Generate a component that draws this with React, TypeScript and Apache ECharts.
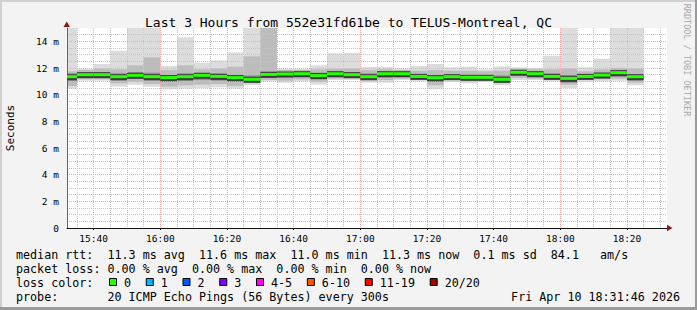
import React, { useEffect, useRef } from 'react';
import * as echarts from 'echarts';

// ---- data ----
const binEnd = ['15:35','15:40','15:45','15:50','15:55','16:00','16:05','16:10','16:15','16:20','16:25','16:30','16:35','16:40','16:45','16:50','16:55','17:00','17:05','17:10','17:15','17:20','17:25','17:30','17:35','17:40','17:45','17:50','17:55','18:00','18:05','18:10','18:15','18:20','18:25'];
const rttMedian = [11.35,11.50,11.50,11.35,11.45,11.35,11.28,11.35,11.45,11.37,11.28,11.15,11.52,11.55,11.57,11.43,11.57,11.50,11.35,11.57,11.57,11.37,11.27,11.35,11.30,11.30,11.15,11.68,11.57,11.37,11.22,11.37,11.47,11.65,11.35];
const rttMin = [10.45,11.05,11.05,10.60,10.75,10.60,10.40,10.45,10.50,10.55,10.45,10.70,11.00,10.90,11.00,10.75,11.10,11.10,10.90,10.90,11.10,11.00,10.40,10.95,10.85,10.95,10.70,11.10,11.10,11.00,10.50,10.95,11.00,11.05,10.70];
const rttMax = [15.6,11.95,12.30,13.30,15.6,15.6,12.15,14.30,12.40,12.57,13.17,15.6,15.6,11.95,11.93,12.20,13.10,13.12,12.07,12.07,11.97,12.15,12.30,12.05,12.10,11.90,12.12,12.05,12.00,12.92,15.6,12.05,12.70,15.6,15.6];
const rttLow2 = [10.65,11.15,11.15,10.85,10.95,10.80,10.60,10.70,10.75,10.80,10.65,10.85,11.10,11.05,11.15,10.95,11.20,11.20,11.05,11.10,11.20,11.10,10.70,11.10,11.00,11.05,10.85,11.25,11.20,11.10,10.75,11.10,11.15,11.20,10.90];
const rttHigh2 = [11.75,11.85,11.95,11.90,12.20,12.80,11.85,12.20,11.90,11.95,12.10,12.87,15.6,11.85,11.85,11.90,11.95,11.95,11.85,11.90,11.85,11.80,11.85,11.80,11.80,11.75,11.80,11.95,11.90,11.90,11.95,11.75,11.90,12.00,11.95];
const rttLow = [11.00,11.30,11.30,11.05,11.20,11.05,10.95,11.00,11.10,11.05,10.95,10.95,11.30,11.30,11.35,11.15,11.35,11.30,11.15,11.30,11.35,11.20,10.95,11.15,11.10,11.15,10.95,11.45,11.35,11.15,10.90,11.15,11.25,11.35,11.05];
const rttHigh = [11.60,11.70,11.70,11.60,11.70,11.65,11.50,11.60,11.65,11.60,11.50,11.45,11.75,11.70,11.75,11.65,11.75,11.70,11.60,11.75,11.75,11.55,11.50,11.55,11.50,11.50,11.45,11.85,11.75,11.60,11.50,11.55,11.65,11.85,11.55];

const xTickLabels = ['15:40','16:00','16:20','16:40','17:00','17:20','17:40','18:00','18:20'];
const yTickValues = [0, 2, 4, 6, 8, 10, 12, 14];

const titleText = 'Last 3 Hours from 552e31fd61be to TELUS-Montreal, QC';
const legendRtt = 'median rtt:  11.3 ms avg  11.6 ms max  11.0 ms min  11.3 ms now  0.1 ms sd  84.1   am/s';
const legendLoss = 'packet loss: 0.00 % avg  0.00 % max  0.00 % min  0.00 % now';
const legendProbe = 'probe:       20 ICMP Echo Pings (56 Bytes) every 300s';
const legendDate = 'Fri Apr 10 18:31:46 2026';
const lossLabels = ['0', '1', '2', '3', '4-5', '6-10', '11-19', '20/20'];
const lossColors = ['#26ff00', '#00b8ff', '#0059ff', '#7e00ff', '#ff00ff', '#ff5500', '#ff0000', '#a10000'];

// minute categories for the time axis (15:32 .. 18:32)
const minuteLabels: string[] = [];
for (let m = 15 * 60 + 32; m <= 18 * 60 + 32; m++) {
  minuteLabels.push(`${Math.floor(m / 60)}:${String(m % 60).padStart(2, '0')}`);
}
const minuteOf = (s: string) => { const [h, m] = s.split(':').map(Number); return h * 60 + m; };

const MONO = '"DejaVu Sans Mono", monospace';
const RED_GRID = '#f4a8a8';
const GRAY_GRID = '#c4c4c4';

export default function App() {
  const ref = useRef<HTMLDivElement>(null);
  useEffect(() => {
    if (!ref.current) return;
    const chart = echarts.init(ref.current, undefined, { renderer: 'svg' });

    const smokeData = binEnd.map((e, k) => {
      const s = k === 0 ? 0 : minuteLabels.indexOf(binEnd[k - 1]);
      const en = minuteLabels.indexOf(e);
      return [s, en, rttMin[k], rttMax[k], rttLow2[k], rttHigh2[k], rttLow[k], rttHigh[k], rttMedian[k]];
    });

    const layers: [number, number, string][] = [[2, 3, '#dcdcdc'], [4, 5, '#bcbcbc'], [6, 7, '#8e8e8e']];
    const renderSmoke = (params: any, api: any) => {
      const x0 = api.value(0), x1 = api.value(1);
      const children: any[] = [];
      layers.forEach(([a, b, c]) => {
        const p0 = api.coord([x0, api.value(b)]);
        const p1 = api.coord([x1, api.value(a)]);
        const r = echarts.graphic.clipRectByRect(
          { x: p0[0], y: p0[1], width: p1[0] - p0[0], height: p1[1] - p0[1] },
          params.coordSys
        );
        if (r) children.push({ type: 'rect', shape: r, style: { fill: c } });
      });
      return { type: 'group', children };
    };
    const renderMedian = (params: any, api: any) => {
      const x0 = api.value(0), x1 = api.value(1);
      const p0 = api.coord([x0, api.value(8)]);
      const p1 = api.coord([x1, api.value(8)]);
      const w = p1[0] - p0[0];
      return {
        type: 'group',
        children: [
          { type: 'rect', shape: { x: p0[0], y: p0[1] - 2.5, width: w, height: 6 }, style: { fill: '#3c3c3c' } },
          { type: 'rect', shape: { x: p0[0], y: p0[1] - 1.5, width: w, height: 3 }, style: { fill: '#26ff00' } },
        ],
      };
    };

    const graphics: any[] = [
      { type: 'rect', shape: { x: 0, y: 0, width: 697, height: 2 }, style: { fill: '#d0d0d0' }, silent: true },
      { type: 'rect', shape: { x: 0, y: 0, width: 2, height: 310 }, style: { fill: '#d0d0d0' }, silent: true },
      { type: 'rect', shape: { x: 0, y: 307, width: 697, height: 3 }, style: { fill: '#9a9a9a' }, silent: true },
      { type: 'rect', shape: { x: 695, y: 0, width: 2, height: 310 }, style: { fill: '#9a9a9a' }, silent: true },
      { type: 'polygon', shape: { points: [[63.5, 27], [70, 27], [66.7, 21.5]] }, style: { fill: '#8b1a1a' }, z: 20 },
      { type: 'polygon', shape: { points: [[667, 224.8], [667, 231.2], [672.5, 228]] }, style: { fill: '#8b1a1a' }, z: 20 },
      {
        type: 'text', x: 687, y: 60, rotation: -Math.PI / 2,
        style: { text: 'RRDTOOL / TOBI OETIKER', fontFamily: MONO, fontSize: 8.5, fill: '#aaaaaa', align: 'center', verticalAlign: 'middle' },
      },
      { type: 'text', x: 16, y: 254.5, style: { text: legendRtt, fontFamily: MONO, fontSize: 11.7, fill: '#000', verticalAlign: 'middle' } },
      { type: 'text', x: 16, y: 268.5, style: { text: legendLoss, fontFamily: MONO, fontSize: 11.7, fill: '#000', verticalAlign: 'middle' } },
      { type: 'text', x: 16, y: 282.5, style: { text: 'loss color:', fontFamily: MONO, fontSize: 11.7, fill: '#000', verticalAlign: 'middle' } },
      { type: 'text', x: 16, y: 296.5, style: { text: legendProbe, fontFamily: MONO, fontSize: 11.7, fill: '#000', verticalAlign: 'middle' } },
      { type: 'text', x: 680, y: 296.5, style: { text: legendDate, fontFamily: MONO, fontSize: 11.7, fill: '#000', align: 'right', verticalAlign: 'middle' } },
    ];
    let bx = 109;
    lossLabels.forEach((lab, i) => {
      graphics.push({ type: 'rect', shape: { x: bx + 0.5, y: 278.5, width: 7, height: 7 }, style: { fill: lossColors[i], stroke: '#000', lineWidth: 1 } });
      graphics.push({ type: 'text', x: bx + 15, y: 282.5, style: { text: lab, fontFamily: MONO, fontSize: 11.7, fill: '#000', verticalAlign: 'middle' } });
      bx = bx + 15 + lab.length * 7.05 + 14.7;
    });

    const isMajor = (v: string) => xTickLabels.includes(v);
    const isMinor = (v: string) => minuteOf(v) % 5 === 0 && !isMajor(v);

    chart.setOption({
      animation: false,
      backgroundColor: '#f3f3f3',
      title: {
        text: titleText, left: 'center', top: 11,
        textStyle: { fontFamily: MONO, fontSize: 13, fontWeight: 'normal', color: '#000' },
      },
      grid: {
        left: 67, right: 30, top: 28, bottom: 82, show: true, backgroundColor: '#ffffff', borderWidth: 0,
        containLabel: false, outerBoundsMode: 'none',
      },
      xAxis: [
        {
          type: 'category', data: minuteLabels, boundaryGap: false, z: 4,
          axisLine: { show: true, lineStyle: { color: '#111', width: 1 } },
          axisTick: { show: true, length: 2, interval: (i: number, v: string) => isMajor(v), lineStyle: { color: '#111' } },
          axisLabel: { interval: (i: number, v: string) => isMajor(v), fontFamily: MONO, fontSize: 9.5, color: '#000', margin: 5 },
          splitLine: { show: true, interval: (i: number, v: string) => isMajor(v), lineStyle: { color: RED_GRID, type: [1, 1], width: 1 } },
        },
        {
          type: 'category', data: minuteLabels, boundaryGap: false, z: 3, position: 'top',
          axisLine: { show: false }, axisTick: { show: false }, axisLabel: { show: false },
          splitLine: { show: true, interval: (i: number, v: string) => isMinor(v), lineStyle: { color: GRAY_GRID, type: [1, 1], width: 1 } },
        },
      ],
      yAxis: [
        {
          type: 'value', min: 0, max: 15, interval: 2, z: 4,
          name: 'Seconds', nameLocation: 'middle', nameRotate: 90, nameGap: 51,
          nameTextStyle: { fontFamily: MONO, fontSize: 11, color: '#000' },
          axisLine: { show: true, lineStyle: { color: '#666', width: 1 } },
          axisTick: { show: false },
          axisLabel: {
            fontFamily: MONO, fontSize: 9.5, color: '#000', margin: 8,
            formatter: (v: number) => (yTickValues.includes(v) ? (v === 0 ? '0' : `${v} m`) : ''),
          },
          splitLine: { show: true, showMinLine: false, showMaxLine: false, lineStyle: { color: RED_GRID, type: [1, 1], width: 1 } },
        },
        {
          type: 'value', min: 0, max: 15, interval: 0.5, z: 3, position: 'right',
          axisLine: { show: false }, axisTick: { show: false }, axisLabel: { show: false },
          splitLine: { show: true, showMinLine: false, showMaxLine: false, lineStyle: { color: GRAY_GRID, type: [1, 1], width: 1 } },
        },
      ],
      series: [
        {
          type: 'custom', name: 'smoke', xAxisIndex: 0, yAxisIndex: 0, z: 1,
          renderItem: renderSmoke, data: smokeData, silent: true,
          encode: { x: [0, 1], y: [2, 3, 4, 5, 6, 7, 8] },
        },
        {
          type: 'custom', name: 'median', xAxisIndex: 0, yAxisIndex: 0, z: 5,
          renderItem: renderMedian, data: smokeData, silent: true,
          encode: { x: [0, 1], y: [8] },
        },
      ],
      graphic: graphics,
    });
    return () => chart.dispose();
  }, []);
  return <div ref={ref} style={{ position: 'absolute', left: 0, top: 0, width: 697, height: 310 }} />;
}
